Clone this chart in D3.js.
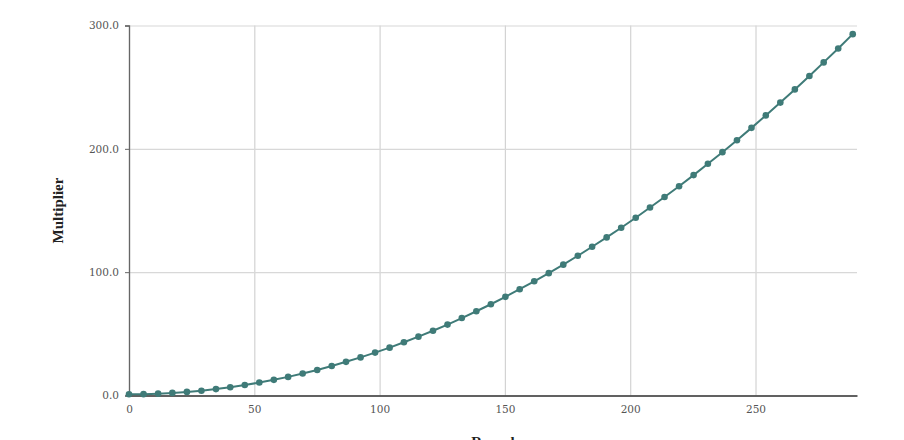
<!DOCTYPE html>
<html>
<head>
<meta charset="utf-8">
<script src="https://cdn.jsdelivr.net/npm/d3@7"></script>
<style>
  html, body { margin: 0; padding: 0; background: #fff; }
  svg { display: block; }
</style>
</head>
<body>
<div id="chart"></div>
<script>
// ---- data ----
const xValues = [0, 5.8, 11.6, 17.3, 23.1, 28.9, 34.7, 40.4, 46.2, 52.0, 57.8, 63.5, 69.3, 75.1, 80.9, 86.6, 92.4, 98.2, 104.0, 109.7, 115.5, 121.3, 127.1, 132.8, 138.6, 144.4, 150.2, 155.9, 161.7, 167.5, 173.3, 179.1, 184.8, 190.6, 196.4, 202.2, 207.9, 213.7, 219.5, 225.3, 231.0, 236.8, 242.6, 248.4, 254.1, 259.9, 265.7, 271.5, 277.2, 283.0, 288.8];
const multiplierValues = [1.0, 1.1, 1.5, 2.1, 2.9, 3.9, 5.2, 6.7, 8.5, 10.5, 12.7, 15.1, 17.8, 20.7, 23.9, 27.3, 30.9, 34.8, 38.8, 43.2, 47.7, 52.5, 57.5, 62.8, 68.3, 74.0, 80.0, 86.2, 92.6, 99.2, 106.1, 113.3, 120.6, 128.2, 136.0, 144.1, 152.4, 160.9, 169.7, 178.7, 187.9, 197.3, 207.0, 217.0, 227.1, 237.5, 248.2, 259.0, 270.1, 281.4, 293.0];
const xTicks = [0, 50, 100, 150, 200, 250];
const yTicks = [0, 100, 200, 300];
const xTitle = "Round";
const yTitle = "Multiplier";

const W = 904, H = 440;
const margin = { left: 129, right: 47, top: 25.5, bottom: 44.5 };
const color = "#3f7b78";

const svg = d3.select("#chart").append("svg").attr("width", W).attr("height", H);

const x = d3.scaleLinear().domain([0, 290.5]).range([margin.left, W - margin.right]);
const y = d3.scaleLinear().domain([0, 300]).range([H - margin.bottom, margin.top]);

const labelFont = "'DejaVu Serif', 'Liberation Serif', serif";

// vertical gridlines
svg.append("g")
  .attr("transform", `translate(0,${y(0)})`)
  .call(d3.axisBottom(x).tickValues(xTicks).tickSize(-(y(0) - y(300))).tickFormat(""))
  .call(g => g.select(".domain").remove())
  .call(g => g.selectAll(".tick line").attr("stroke", "#d3d3d3").attr("stroke-width", 1.2));

// horizontal gridlines
svg.append("g")
  .attr("transform", `translate(${x(0)},0)`)
  .call(d3.axisLeft(y).tickValues(yTicks).tickSize(-(x(290.5) - x(0))).tickFormat(""))
  .call(g => g.select(".domain").remove())
  .call(g => g.selectAll(".tick line").attr("stroke", "#d8d8d8").attr("stroke-width", 1.2));

// y axis
const yAxis = svg.append("g")
  .attr("transform", `translate(${x(0)},0)`)
  .call(d3.axisLeft(y).tickValues(yTicks).tickSize(4).tickPadding(6).tickFormat(d3.format(".1f")));
yAxis.select(".domain").attr("stroke", "#666").attr("stroke-width", 1.3);
yAxis.selectAll(".tick line").attr("stroke", "#666");
yAxis.selectAll("text").attr("font-family", labelFont).attr("font-size", 10.5).attr("fill", "#555");

// x axis
const xAxis = svg.append("g")
  .attr("transform", `translate(0,${y(0)})`)
  .call(d3.axisBottom(x).tickValues(xTicks).tickSize(0).tickPadding(10).tickFormat(d3.format("d")));
xAxis.select(".domain").attr("stroke", "#333").attr("stroke-width", 1.3);
xAxis.selectAll("text").attr("font-family", labelFont).attr("font-size", 10.5).attr("fill", "#555");

// axis titles
svg.append("text")
  .attr("transform", `translate(63,${(y(0) + y(300)) / 2}) rotate(-90)`)
  .attr("text-anchor", "middle")
  .attr("font-family", "'Liberation Serif', serif")
  .attr("font-weight", "bold")
  .attr("font-size", 15)
  .attr("fill", "#222")
  .text(yTitle);

svg.append("text")
  .attr("x", (x(0) + x(290.5)) / 2)
  .attr("y", 447)
  .attr("text-anchor", "middle")
  .attr("font-family", "'Liberation Serif', serif")
  .attr("font-weight", "bold")
  .attr("font-size", 15)
  .attr("fill", "#222")
  .text(xTitle);

const data = xValues.map((v, i) => ({ x: v, y: multiplierValues[i] }));

svg.append("path")
  .datum(data)
  .attr("fill", "none")
  .attr("stroke", color)
  .attr("stroke-width", 2)
  .attr("d", d3.line().x(d => x(d.x)).y(d => y(d.y)));

svg.append("g")
  .selectAll("circle")
  .data(data)
  .join("circle")
  .attr("cx", d => x(d.x))
  .attr("cy", d => y(d.y))
  .attr("r", 3.3)
  .attr("fill", color);
</script>
</body>
</html>
